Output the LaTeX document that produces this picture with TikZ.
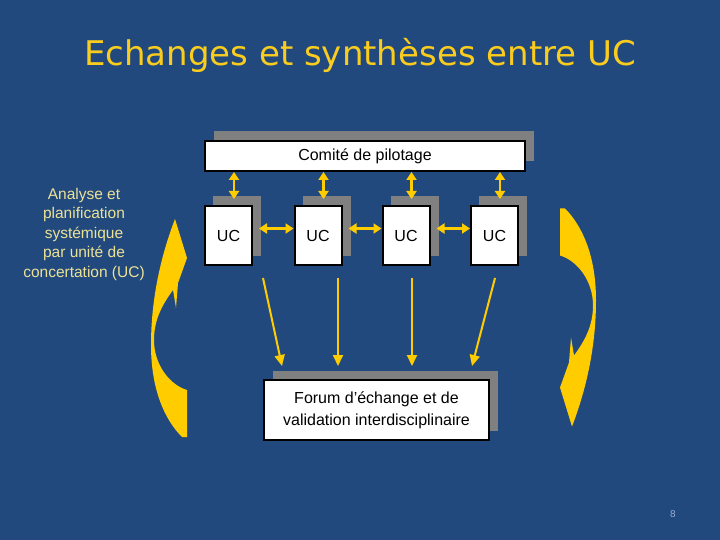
\documentclass[tikz,border=0pt]{standalone}
\usepackage{fontspec}
\setmainfont{Liberation Sans}
\newfontfamily\titlefont{DejaVu Sans}
\usetikzlibrary{arrows.meta,shadows}
\definecolor{bgblue}{RGB}{33,73,125}
\definecolor{gold}{RGB}{255,204,0}
\definecolor{titlegold}{RGB}{250,204,30}
\definecolor{paleyellow}{RGB}{236,226,150}
\definecolor{shadowgray}{RGB}{128,128,128}
\definecolor{pagenum}{RGB}{150,172,212}
\newcommand\curvedarrowpath{(12.5,109) .. controls (-4.5,92) and (-18.5,62) .. (-18.5,17)
 .. controls (-18.5,-38) and (-4.5,-83) .. (5.5,-109) -- (17.5,-70) -- (8.5,-45) -- (6.5,-20)
 -- (3.5,-38) .. controls (-7.5,-23) and (-15.5,-8) .. (-15.5,12)
 .. controls (-15.5,37) and (0.5,57) .. (17.5,62) -- (17.5,109) -- cycle}
\tikzset{
  whitebox/.style={draw=black, line width=2pt, fill=white, inner sep=0pt,
    font=\fontsize{16}{19}\selectfont, text=black,
    drop shadow={shadow xshift=9pt, shadow yshift=9.5pt, fill=shadowgray, opacity=1}},
  ucbox/.style={whitebox, minimum width=47pt, minimum height=59pt,
    font=\fontsize{16}{19}\selectfont,
    drop shadow={shadow xshift=8pt, shadow yshift=10pt, fill=shadowgray, opacity=1}},
  dblarr/.style={gold, line width=2.5pt, {Triangle[length=8pt,width=10pt]}-{Triangle[length=8pt,width=10pt]}},
  arr/.style={gold, line width=2pt, -{Triangle[length=11pt,width=10pt]}},
  bigarrow/.style={fill=gold}
}
\begin{document}
\begin{tikzpicture}[x=1pt,y=-1pt]
\fill[bgblue] (0,0) rectangle (720,540);
\useasboundingbox (0,0) rectangle (720,540);

\node[text=titlegold, font=\titlefont\fontsize{34}{40}\selectfont] (title) at (360,55) {Echanges et synthèses entre UC};

\node[text=paleyellow, align=center, font=\fontsize{15.5}{19.5}\selectfont] (analyse) at (84,234)
  {Analyse et\\planification\\systémique\\par unité de\\concertation (UC)};

\node[whitebox, minimum width=320pt, minimum height=30pt] (comite) at (365,156) {Comité de pilotage};

\node[ucbox] (uc1) at (228.5,235.5) {UC};
\node[ucbox] (uc2) at (318,235.5) {UC};
\node[ucbox] (uc3) at (406,235.5) {UC};
\node[ucbox] (uc4) at (494.5,235.5) {UC};

\node[whitebox, minimum width=225pt, minimum height=60pt, align=center,
  font=\fontsize{16}{22}\selectfont] (forum) at (376.5,410)
  {Forum d'échange et de\\validation interdisciplinaire};

% comite <-> UC
\foreach \u in {uc1,uc2,uc3,uc4}{
  \draw[dblarr] ([xshift=5.5pt]\u.north |- comite.south) -- ([xshift=5.5pt,yshift=6pt]\u.north);
}
% UC <-> UC
\draw[dblarr] ([xshift=6pt,yshift=7pt]uc1.east) -- ([yshift=7pt]uc2.west);
\draw[dblarr] ([xshift=6pt,yshift=7pt]uc2.east) -- ([yshift=7pt]uc3.west);
\draw[dblarr] ([xshift=6pt,yshift=7pt]uc3.east) -- ([yshift=7pt]uc4.west);

% UC -> forum
\coordinate (s1) at (263,278);
\coordinate (s2) at (338,278);
\coordinate (s3) at (412,278);
\coordinate (s4) at (495,278);
\draw[arr] (s1) -- ([xshift=-94.5pt,yshift=13pt]forum.north);
\draw[arr] (s2) -- ([xshift=-38.5pt,yshift=13pt]forum.north);
\draw[arr] (s3) -- ([xshift=35.5pt,yshift=13pt]forum.north);
\draw[arr] (s4) -- ([xshift=95.5pt,yshift=13pt]forum.north);

% curved arrows
\begin{scope}[shift={(169.5,328)}]
  \fill[bigarrow] \curvedarrowpath;
\end{scope}
\begin{scope}[shift={(577.5,317.5)},rotate=180]
  \fill[bigarrow] \curvedarrowpath;
\end{scope}

\node[text=pagenum, font=\fontsize{10}{12}\selectfont] (page) at (673,514) {8};
\end{tikzpicture}
\end{document}
